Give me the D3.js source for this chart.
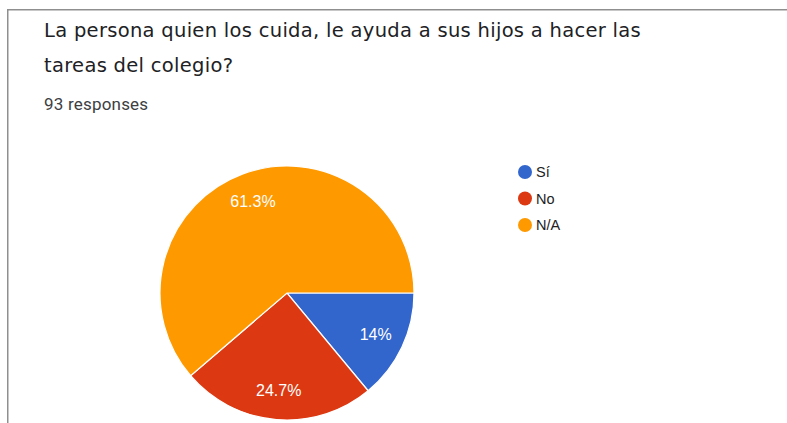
<!DOCTYPE html>
<html>
<head>
<meta charset="utf-8">
<script src="https://cdn.jsdelivr.net/npm/d3@7"></script>
<style>
  html, body { margin: 0; padding: 0; background: #fff; }
  svg { display: block; }
</style>
</head>
<body>
<svg id="chart" width="787" height="423"></svg>
<script>
// Survey answers
const categories = ["Sí", "No", "N/A"];
const counts = [13, 23, 57];
const colors = ["#3366cc", "#dc3912", "#ff9900"];
const titleLines = [
  "La persona quien los cuida, le ayuda a sus hijos a hacer las",
  "tareas del colegio?"
];
const responsesLabel = "93 responses";

const svg = d3.select("#chart");
const W = 787, H = 423;

// card outline (top and left edges)
svg.append("path")
  .attr("d", `M7.75,${H} V9.75 H${W}`)
  .attr("fill", "none")
  .attr("stroke", "#8f8f8f")
  .attr("stroke-width", 1.5);

// title
const title = svg.selectAll("text.title")
  .data(titleLines)
  .join("text")
  .attr("class", "title")
  .attr("x", 44)
  .attr("y", (d, i) => 37 + i * 35)
  .attr("font-family", "'DejaVu Sans', sans-serif")
  .attr("font-size", 19.5)
  .attr("letter-spacing", 0.3)
  .attr("fill", "#202124")
  .text(d => d);

svg.append("text")
  .attr("x", 44)
  .attr("y", 110)
  .attr("font-family", "Roboto, sans-serif")
  .attr("font-size", 17)
  .attr("letter-spacing", 0.2)
  .attr("fill", "#3c4043")
  .text(responsesLabel);

// pie
const cx = 287, cy = 293, r = 127;
const total = d3.sum(counts);
const data = categories.map((c, i) => ({ name: c, value: counts[i], color: colors[i] }));

const pie = d3.pie()
  .value(d => d.value)
  .sort(null)
  .startAngle(Math.PI / 2)
  .endAngle(Math.PI / 2 + 2 * Math.PI);

const arc = d3.arc().innerRadius(0).outerRadius(r);
const labelArc = d3.arc().innerRadius(98).outerRadius(98);

const g = svg.append("g").attr("transform", `translate(${cx},${cy})`);
const arcs = pie(data);

g.selectAll("path.slice")
  .data(arcs)
  .join("path")
  .attr("class", "slice")
  .attr("d", arc)
  .attr("fill", d => d.data.color)
  .attr("stroke", "#fff")
  .attr("stroke-width", 1.2);

const fmt = v => {
  const p = Math.round(v / total * 1000) / 10;
  return (Number.isInteger(p) ? p.toFixed(0) : p.toFixed(1)) + "%";
};

g.selectAll("text.pct")
  .data(arcs)
  .join("text")
  .attr("class", "pct")
  .attr("transform", d => {
    const [x, y] = labelArc.centroid(d);
    return `translate(${x},${y})`;
  })
  .attr("text-anchor", "middle")
  .attr("dy", "0.36em")
  .attr("font-family", "Arial, 'Liberation Sans', sans-serif")
  .attr("font-size", 16)
  .attr("fill", "#ffffff")
  .text(d => fmt(d.data.value));

// legend
const legend = svg.append("g").attr("transform", "translate(525,172)");
const item = legend.selectAll("g")
  .data(data)
  .join("g")
  .attr("transform", (d, i) => `translate(0,${i * 26.5})`);
item.append("circle")
  .attr("r", 7)
  .attr("fill", d => d.color);
item.append("text")
  .attr("x", 11)
  .attr("dy", "0.36em")
  .attr("font-family", "Arial, 'Liberation Sans', sans-serif")
  .attr("font-size", 14.5)
  .attr("fill", "#222222")
  .text(d => d.name);
</script>
</body>
</html>
